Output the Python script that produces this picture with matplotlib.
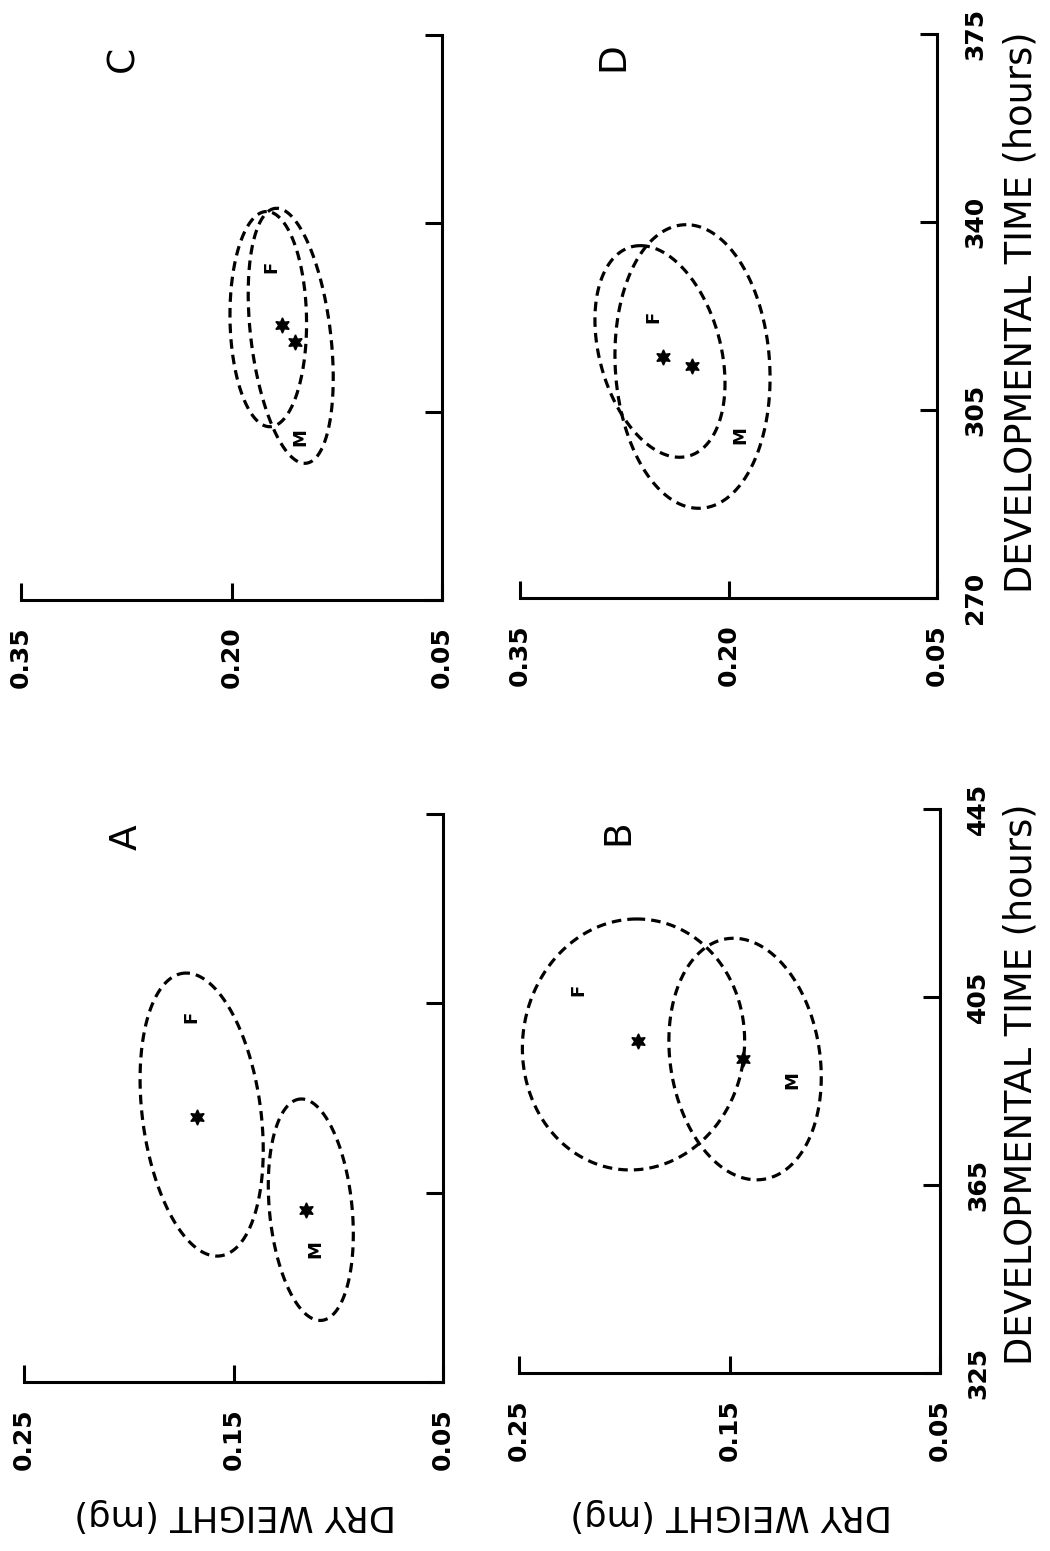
import numpy as np
import matplotlib
matplotlib.use("Agg")
import matplotlib.pyplot as plt

# ---------------- data (panel order A, B, C, D) ----------------
panel_letters = ["A", "B", "C", "D"]
time_lo = [325, 325, 270, 270]
time_hi = [445, 445, 375, 375]
time_ticks_AB = [325, 365, 405, 445]
time_ticks_CD = [270, 305, 340, 375]
weight_ticks_AB = [0.25, 0.15, 0.05]
weight_ticks_CD = [0.35, 0.20, 0.05]
weight_labels_AB = ["0.25", "0.15", "0.05"]
weight_labels_CD = ["0.35", "0.20", "0.05"]

# means (asterisks)
mean_time_F = [380.9, 395.6, 321.1, 314.9]
mean_weight_F = [0.1676, 0.1935, 0.1642, 0.2469]
mean_time_M = [361.4, 391.8, 318.0, 313.1]
mean_weight_M = [0.1154, 0.1438, 0.1548, 0.2265]

# confidence ellipses: centre, half-ranges, correlation
ell_time_F = [381.5, 394.9, 322.2, 315.9]
ell_weight_F = [0.1652, 0.1956, 0.1738, 0.2493]
ell_trad_F = [29.9, 26.7, 20.0, 19.7]
ell_wrad_F = [0.0294, 0.0528, 0.0273, 0.0468]
ell_rho_F = [0.25, -0.03, 0.04, 0.30]

ell_time_M = [361.4, 391.8, 319.1, 313.1]
ell_weight_M = [0.1131, 0.1426, 0.1578, 0.2259]
ell_trad_M = [23.4, 25.7, 23.7, 26.4]
ell_wrad_M = [0.0203, 0.0362, 0.0303, 0.0558]
ell_rho_M = [0.22, 0.15, 0.33, 0.08]

# F / M label positions
label_time_F = [402.1, 406.5, 331.9, 322.4]
label_weight_F = [0.1700, 0.222, 0.1714, 0.2541]
label_time_M = [353.1, 387.3, 300.3, 300.3]
label_weight_M = [0.1111, 0.120, 0.1512, 0.1917]

# ---------------- layout (pixels) ----------------
W, H = 1050, 1551
# left, right, top, bottom of each axes box
boxes = {
    "A": (24, 443, 814, 1382),
    "B": (519, 940, 809, 1373),
    "C": (21, 442, 35, 600),
    "D": (520, 937, 34, 598),
}
letter_pos = {"A": (127, 837), "B": (618, 832), "C": (123, 59), "D": (613, 57)}

plt.rcParams["font.family"] = ["DejaVu Sans"]
fig = plt.figure(figsize=(W / 100, H / 100), dpi=100)
fig.patch.set_facecolor("white")


def ellipse(ax, ct, cw, rt, rw, rho):
    th = np.linspace(0, 2 * np.pi, 500)
    d = np.arccos(rho)
    t = ct + rt * np.cos(th)
    w = cw + rw * np.cos(th - d)
    ax.plot(w, t, color="black", lw=2.3, ls=(0, (3, 1.9)), dash_capstyle="butt")


for i, p in enumerate(panel_letters):
    l, r, t, b = boxes[p]
    ax = fig.add_axes([l / W, 1 - b / H, (r - l) / W, (b - t) / H])
    ax.patch.set_visible(False)
    ab = p in ("A", "B")
    wticks = weight_ticks_AB if ab else weight_ticks_CD
    wlabels = weight_labels_AB if ab else weight_labels_CD
    tticks = time_ticks_AB if ab else time_ticks_CD
    ax.set_xlim(wticks[0], wticks[-1])
    ax.set_ylim(time_lo[i], time_hi[i])

    for s in ("top", "left"):
        ax.spines[s].set_visible(False)
    for s in ("bottom", "right"):
        ax.spines[s].set_linewidth(2.2)
    ax.yaxis.tick_right()
    ax.tick_params(direction="in", length=12, width=2.2)

    ax.set_xticks(wticks)
    ax.set_xticklabels(wlabels, rotation=90, fontsize=18, fontweight="bold")
    ax.tick_params(axis="x", pad=19)

    ax.set_yticks(tticks)
    if p in ("B", "D"):
        ax.set_yticklabels([str(v) for v in tticks], rotation=90, fontsize=18,
                           fontweight="bold", va="center")
        ax.tick_params(axis="y", pad=19)
    else:
        ax.tick_params(axis="y", labelright=False)

    ellipse(ax, ell_time_F[i], ell_weight_F[i], ell_trad_F[i], ell_wrad_F[i], ell_rho_F[i])
    ellipse(ax, ell_time_M[i], ell_weight_M[i], ell_trad_M[i], ell_wrad_M[i], ell_rho_M[i])

    ax.plot([mean_weight_F[i], mean_weight_M[i]], [mean_time_F[i], mean_time_M[i]],
            ls="none", marker=(6, 1, 0), markersize=11, color="black")

    ax.text(label_weight_F[i], label_time_F[i], "F", rotation=90, fontsize=13,
            fontweight="bold", ha="center", va="center")
    ax.text(label_weight_M[i], label_time_M[i], "M", rotation=90, fontsize=13,
            fontweight="bold", ha="center", va="center")

    lx, ly = letter_pos[p]
    fig.text(lx / W, 1 - ly / H, p, rotation=90, fontsize=27, ha="center", va="center")

# axis titles
for cy in (312, 1084):
    fig.text(1021 / W, 1 - cy / H, "DEVELOPMENTAL TIME (hours)", rotation=90,
             fontsize=26.5, ha="center", va="center")
for cx in (235, 731):
    fig.text(cx / W, 1 - 1515 / H, "DRY WEIGHT (mg)", rotation=180,
             fontsize=25.5, ha="center", va="center")

fig.savefig("out.png", dpi=100, facecolor="white")
